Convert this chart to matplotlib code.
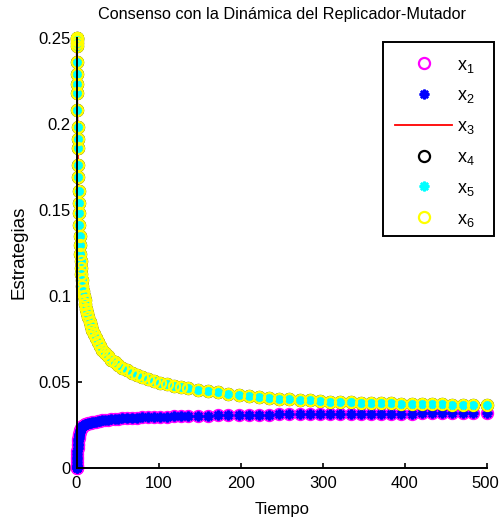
import matplotlib
matplotlib.use('Agg')
import matplotlib.pyplot as plt
import matplotlib.transforms as mtransforms
from matplotlib.patches import Rectangle

plt.rcParams['font.family'] = ['Liberation Sans', 'DejaVu Sans']
plt.rcParams['mathtext.fontset'] = 'custom'
plt.rcParams['mathtext.rm'] = 'Liberation Sans'

# ---------------- data ----------------
tiempo = [0, 0.02, 0.05, 0.1, 0.2, 0.35, 0.5, 0.65, 0.8, 1.0,
          1.25, 1.45, 1.6, 1.9, 2.15, 2.45, 2.75, 3.05, 3.4, 3.75,
          4.1, 4.5, 4.9, 5.4, 5.9, 6.5, 7.3, 8.2, 9.0, 9.9,
          10.9, 12.0, 13.2, 14.5, 16.0, 17.6, 19.4, 21.4, 23.6, 26.0,
          28.7, 31.6, 34.8, 38.3, 42.1, 46.3, 50.9, 55.9, 61.3, 67.1,
          73.3, 79.9, 86.9, 94.3, 102.0, 110.0, 118.3, 126.8, 135.4, 147.8,
          160.2, 172.6, 185.0, 197.4, 209.8, 222.2, 234.6, 247.0, 259.4, 271.8,
          284.2, 296.6, 309.0, 321.4, 333.8, 346.2, 358.6, 371.0, 383.4, 395.8,
          408.2, 420.6, 433.0, 445.4, 457.8, 470.2, 482.6, 500.0]

# strategies that start at 0 (x1, x2)
bajo = [0.0000, 0.0002, 0.0005, 0.0010, 0.0020, 0.0035, 0.0050, 0.0065, 0.0080, 0.0100,
        0.0118, 0.0132, 0.0142, 0.0156, 0.0166, 0.0176, 0.0185, 0.0193, 0.0200, 0.0207,
        0.0213, 0.0219, 0.0224, 0.0229, 0.0233, 0.0237, 0.0242, 0.0246, 0.0249, 0.0252,
        0.0254, 0.0256, 0.0258, 0.0260, 0.0262, 0.0264, 0.0266, 0.0268, 0.0270, 0.0272,
        0.0274, 0.0276, 0.0278, 0.0280, 0.0282, 0.0284, 0.0286, 0.0288, 0.0290, 0.0291,
        0.0293, 0.0294, 0.0296, 0.0297, 0.0298, 0.0299, 0.0300, 0.0301, 0.0302, 0.0303,
        0.0304, 0.0305, 0.0306, 0.0307, 0.0308, 0.0309, 0.0310, 0.0311, 0.0311, 0.0312,
        0.0312, 0.0313, 0.0313, 0.0314, 0.0314, 0.0315, 0.0315, 0.0315, 0.0316, 0.0316,
        0.0316, 0.0317, 0.0317, 0.0317, 0.0317, 0.0318, 0.0318, 0.0318]

# strategies that start at 0.25 (x3, x4, x5, x6)
alto = [0.2500, 0.2495, 0.2485, 0.2470, 0.2450, 0.2355, 0.2290, 0.2230, 0.2180, 0.2080,
        0.1980, 0.1910, 0.1860, 0.1760, 0.1690, 0.1610, 0.1540, 0.1480, 0.1410, 0.1350,
        0.1295, 0.1245, 0.1200, 0.1160, 0.1125, 0.1090, 0.1055, 0.1025, 0.1000, 0.0976,
        0.0950, 0.0925, 0.0900, 0.0876, 0.0850, 0.0826, 0.0801, 0.0777, 0.0753, 0.0730,
        0.0708, 0.0687, 0.0667, 0.0648, 0.0630, 0.0613, 0.0597, 0.0582, 0.0567, 0.0553,
        0.0540, 0.0528, 0.0517, 0.0506, 0.0496, 0.0487, 0.0479, 0.0471, 0.0464, 0.0455,
        0.0447, 0.0439, 0.0432, 0.0425, 0.0419, 0.0413, 0.0408, 0.0403, 0.0399, 0.0395,
        0.0392, 0.0389, 0.0386, 0.0384, 0.0382, 0.0380, 0.0378, 0.0377, 0.0375, 0.0374,
        0.0372, 0.0371, 0.0370, 0.0369, 0.0368, 0.0367, 0.0366, 0.0365]

x1 = bajo
x2 = bajo
x3 = alto
x4 = alto
x5 = alto
x6 = alto

etiquetas = ['x_1', 'x_2', 'x_3', 'x_4', 'x_5', 'x_6']
x_ticks = [0, 100, 200, 300, 400, 500]
y_ticks = [0, 0.05, 0.1, 0.15, 0.2, 0.25]
y_ticklabels = ['0', '0.05', '0.1', '0.15', '0.2', '0.25']

titulo = 'Consenso con la Dinámica del Replicador-Mutador'
xlab = 'Tiempo'
ylab = 'Estrategias'

# ---------------- figure ----------------
W, H = 499, 523
fig = plt.figure(figsize=(W / 100, H / 100), dpi=100)
ax = fig.add_axes([76.5 / W, 55 / H, (487 - 76.5) / W, (468 - 37.5) / H])

ast = (8, 2, 0)
circ = dict(ls='none', marker='o', mfc='none', ms=8, mew=1.6, clip_on=False)
star = dict(ls='none', marker=ast, ms=7, mew=1.8, clip_on=False)

labs = [r'$\mathregular{%s}$' % e for e in etiquetas]
ax.plot(tiempo, x1, mec='#ff00ff', label=labs[0], **circ)
ax.plot(tiempo, x2, color='#0000ff', label=labs[1], **star)
ax.plot(tiempo, x3, color='#ff0000', lw=1.3, label=labs[2], clip_on=False)
ax.plot(tiempo, x4, mec='#000000', label=labs[3], **circ)
ax.plot(tiempo, x5, color='#00ffff', label=labs[4], **star)
ax.plot(tiempo, x6, mec='#ffff00', label=labs[5], **circ)

ax.set_xlim(0, 500)
ax.set_ylim(0, 0.25)
ax.set_xticks(x_ticks)
ax.set_yticks(y_ticks)
ax.set_yticklabels(y_ticklabels)
for s in ['top', 'right']:
    ax.spines[s].set_visible(False)
for s in ['left', 'bottom']:
    ax.spines[s].set_linewidth(1.4)
ax.tick_params(direction='in', length=3.5, width=1.2, labelsize=12, colors='black')
ax.tick_params(axis='x', pad=6)
ax.tick_params(axis='y', pad=4)

# keep the last x tick label inside the picture
last = ax.get_xticklabels()[-1]
last.set_transform(last.get_transform() +
                   mtransforms.ScaledTranslation(-2 / 100, 0, fig.dpi_scale_trans))

ax.set_title(titulo, fontsize=11.7, pad=13)
ax.set_xlabel(xlab, fontsize=12, labelpad=8)
ax.set_ylabel(ylab, fontsize=13.5, labelpad=8)

# legend frame (drawn separately to match the reference box)
frame = Rectangle((383 / W, 1 - 236 / H), 111 / W, 194 / H, transform=fig.transFigure,
                  facecolor='white', edgecolor='black', linewidth=1.4,
                  zorder=4.5, clip_on=False)
ax.add_patch(frame)

fs = 13
px = fs * 100 / 72
bp = 0.4
leg = ax.legend(loc='upper left',
                bbox_to_anchor=((395 - bp * px) / W, 1 - 49.3 / H),
                bbox_transform=fig.transFigure, borderaxespad=0,
                fontsize=fs, numpoints=1, frameon=False,
                handlelength=57 / px, handletextpad=5 / px,
                labelspacing=0.71, borderpad=bp)
leg.set_zorder(6)

fig.savefig('out.png', dpi=100)
